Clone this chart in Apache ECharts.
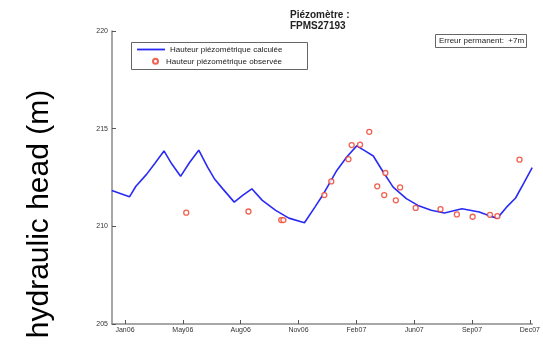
<!DOCTYPE html>
<html>
<head>
<meta charset="utf-8">
<script src="https://cdn.jsdelivr.net/npm/echarts@6/dist/echarts.min.js"></script>
<style>html,body{margin:0;padding:0;background:#fff}#c{width:543px;height:350px}</style>
</head>
<body>
<div id="c"></div>
<script>
// x values: days since 2006-01-01
const tickDays = [28, 126, 224, 322, 420, 518, 616, 714];
const tickLabels = ['Jan06', 'May06', 'Aug06', 'Nov06', 'Feb07', 'Jun07', 'Sep07', 'Dec07'];
const yTicks = [205, 210, 215, 220];

const calcDays = [5.6, 35.6, 46.5, 64.5, 78.5, 94.1, 107.1, 122.2, 137.4, 153, 167.7, 179.4, 193.4, 213.1, 227.4, 242.9, 260.7, 283.3, 305.6, 332.1, 350.6, 364.5, 386.9, 403.7, 420.6, 434.7, 448.7, 465.5, 482.3, 504.7, 524.4, 546.8, 569.3, 598.9, 628.2, 647.7, 659, 674.1, 689.8, 703.9, 717.9];
const calcHead = [211.83, 211.51, 212.05, 212.66, 213.22, 213.86, 213.20, 212.56, 213.27, 213.90, 213.04, 212.44, 211.93, 211.24, 211.58, 211.92, 211.33, 210.82, 210.42, 210.18, 211.02, 211.67, 212.86, 213.55, 214.12, 213.86, 213.60, 212.78, 212.01, 211.42, 211.07, 210.82, 210.68, 210.90, 210.73, 210.51, 210.42, 210.97, 211.45, 212.22, 213.00];

const obsDays = [131.8, 237.2, 292.7, 296.4, 365.7, 377.5, 406.6, 412.1, 426.3, 441.9, 455.4, 467.2, 469.2, 486.9, 494.1, 520.5, 562.6, 590.3, 617, 646.4, 659, 696.4];
const obsHead = [210.70, 210.76, 210.32, 210.32, 211.60, 212.30, 213.44, 214.16, 214.18, 214.84, 212.05, 211.60, 212.73, 211.33, 211.99, 210.94, 210.88, 210.61, 210.49, 210.59, 210.52, 213.41];

const seriesNames = ['Hauteur piézométrique calculée', 'Hauteur piézométrique observée'];
const titleText = 'Piézomètre :\nFPMS27193';
const errorText = 'Erreur permanent:  +7m';
const yName = 'hydraulic head (m)';

const chart = echarts.init(document.getElementById('c'), null, {renderer: 'canvas'});
const FONT = 'Liberation Sans, Arial, sans-serif';
const axisGray = '#8a8a8a';
const lineBlue = '#2a2af5';
const obsRed = '#ee3b24';
const legendText = {fontFamily: FONT, fontSize: 8, color: '#222'};

chart.setOption({
  animation: false,
  backgroundColor: '#fff',
  title: [
    {
      text: titleText, left: 285, top: 5,
      textStyle: {fontFamily: FONT, fontSize: 10, fontWeight: 'bold', color: '#222', lineHeight: 11}
    },
    {
      text: errorText, left: 435, top: 34, padding: [2, 3, 2, 4],
      borderColor: '#666', borderWidth: 1,
      textStyle: {fontFamily: FONT, fontSize: 8, fontWeight: 'normal', color: '#222', lineHeight: 10}
    }
  ],
  legend: [
    {
      left: 137, top: 45.5, padding: 0, orient: 'vertical',
      itemWidth: 28, itemHeight: 1.8, textStyle: legendText,
      data: [{name: seriesNames[0], icon: 'rect', itemStyle: {color: lineBlue}}]
    },
    {
      left: 152, top: 57.3, padding: 0, orient: 'vertical',
      itemWidth: 11, itemHeight: 5, textStyle: legendText,
      data: [seriesNames[1]]
    }
  ],
  grid: {left: 112, right: 8, top: 31, bottom: 26, containLabel: false},
  xAxis: {
    type: 'value', min: 6, max: 718,
    axisLine: {show: true, lineStyle: {color: axisGray, width: 1.5}},
    axisTick: {show: true, inside: true, length: 4, customValues: tickDays, lineStyle: {color: '#555'}},
    axisLabel: {
      customValues: tickDays, fontFamily: FONT, fontSize: 7, color: '#333', margin: 3,
      formatter: v => { const i = tickDays.indexOf(Math.round(v)); return i >= 0 ? tickLabels[i] : ''; }
    },
    splitLine: {show: false}
  },
  yAxis: {
    type: 'value', min: yTicks[0], max: yTicks[yTicks.length - 1], interval: 5,
    axisLine: {show: true, lineStyle: {color: axisGray, width: 1.5}},
    axisTick: {show: true, inside: true, length: 4, lineStyle: {color: '#555'}},
    axisLabel: {fontFamily: FONT, fontSize: 7, color: '#333', margin: 4},
    splitLine: {show: false}
  },
  graphic: [
    {
      type: 'rect', shape: {x: 131.5, y: 42.5, width: 176, height: 27},
      style: {fill: null, stroke: '#666', lineWidth: 1}, z: 0
    },
    {
      type: 'text', x: 40, y: 214, rotation: Math.PI / 2,
      style: {text: yName, fontFamily: FONT, fontSize: 30, fill: '#000', align: 'center', verticalAlign: 'middle'}
    }
  ],
  series: [
    {
      name: seriesNames[0], type: 'line', symbol: 'none',
      lineStyle: {color: lineBlue, width: 1.6},
      itemStyle: {color: lineBlue},
      data: calcDays.map((d, i) => [d, calcHead[i]]),
      z: 2
    },
    {
      name: seriesNames[1], type: 'scatter', symbol: 'circle', symbolSize: 5,
      itemStyle: {color: '#fff', borderColor: obsRed, borderWidth: 1.3},
      data: obsDays.map((d, i) => [d, obsHead[i]]),
      z: 3
    }
  ]
});
</script>
</body>
</html>
